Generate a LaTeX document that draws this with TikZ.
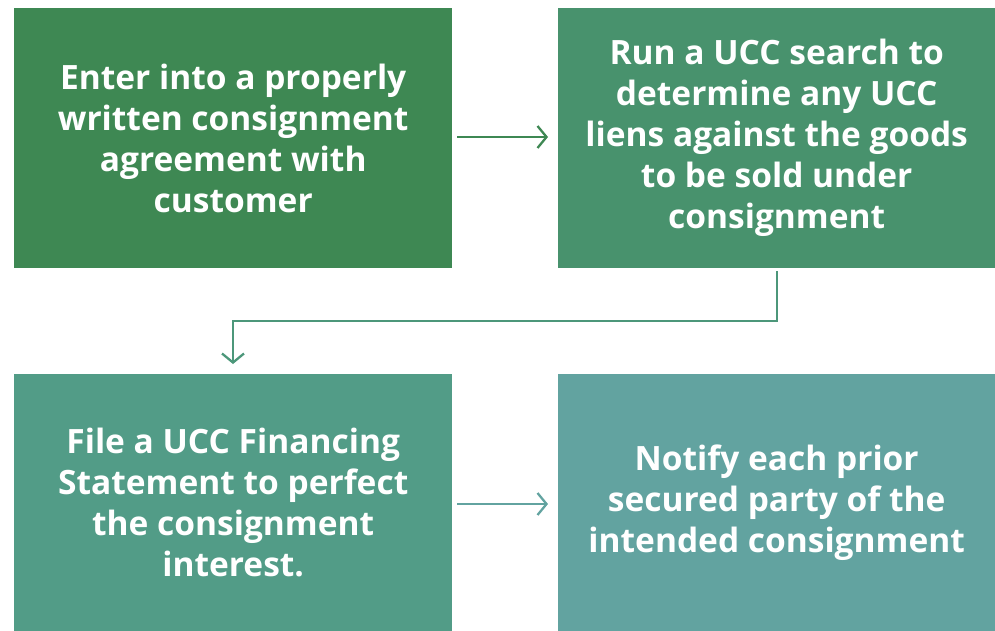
\documentclass[tikz,border=0pt]{standalone}
\usepackage{fontspec}
\setmainfont{Open Sans}
\usetikzlibrary{arrows.meta}
\definecolor{cA}{HTML}{3E8853}
\definecolor{cB}{HTML}{48926D}
\definecolor{cC}{HTML}{529C87}
\definecolor{cD}{HTML}{62A3A0}
\definecolor{aB}{HTML}{4C977A}
\tikzset{
  box/.style={anchor=north west, inner sep=0pt, minimum width=438pt, minimum height=260pt,
    text=white, font=\fontsize{33.5}{41}\selectfont\bfseries, align=center},
  conn/.style={line width=2.3pt, -{Straight Barb[length=9pt, width=22pt, line width=2.3pt]}},
}
\begin{document}
\begin{tikzpicture}[x=1pt,y=-1pt]
\useasboundingbox (0,0) rectangle (995,630);
\node[box, fill=cA] (b1) at (14,8) {Enter into a properly\\written consignment\\agreement with\\customer};
\node[box, fill=cB, minimum width=437pt] (b2) at (558,8) {Run a UCC search to\\determine any UCC\\liens against the goods\\to be sold under\\consignment};
\node[box, fill=cC, minimum height=257pt] (b3) at (14,374) {File a UCC Financing\\Statement to perfect\\the consignment\\interest.};
\node[box, fill=cD, minimum width=437pt, minimum height=257pt] (b4) at (558,374) {Notify each prior\\secured party of the\\intended consignment};
\coordinate (a1s) at (457,137);
\coordinate (a1e) at (548,137);
\coordinate (a2s) at (457,504);
\coordinate (a2e) at (548,504);
\coordinate (es) at (777,271);
\coordinate (ee) at (233,364);
\draw[conn, draw=cA] (a1s) -- (a1e);
\draw[conn, draw=cD] (a2s) -- (a2e);
\draw[conn, draw=aB] (es) -- (777,321) -- (233,321) -- (ee);
\end{tikzpicture}
\end{document}
